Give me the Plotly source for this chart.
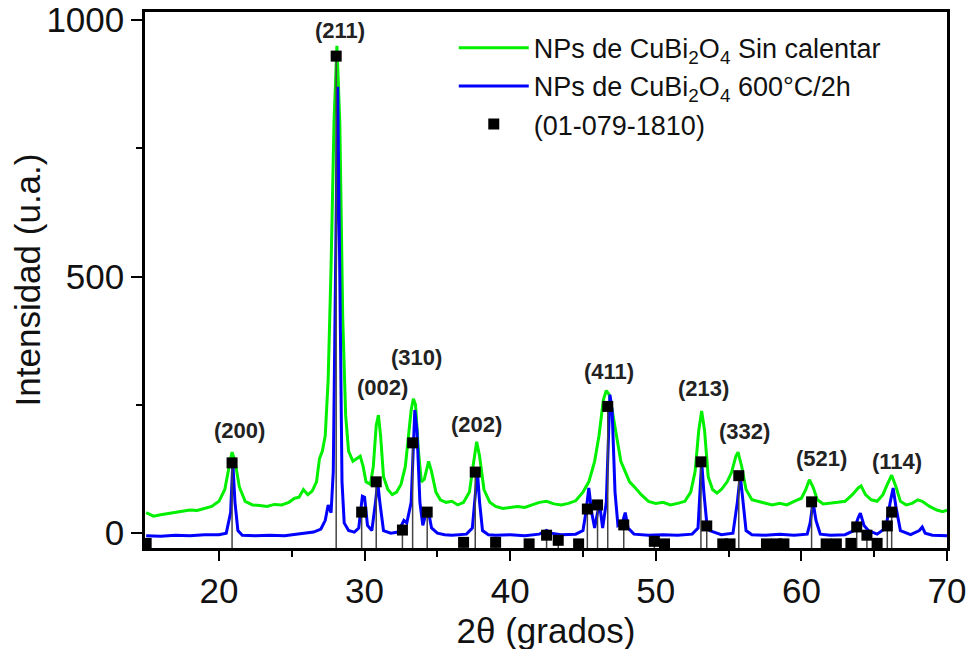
import plotly.graph_objects as go

# Green: NPs de CuBi2O4 sin calentar
green_x = [15.0, 15.5, 16.0, 16.5, 17.0, 17.5, 18.0, 18.5, 19.0, 19.5, 20.0, 20.4, 20.7, 20.9, 21.1, 21.4, 21.8,
           22.3, 22.8, 23.3, 23.8, 24.3, 24.8, 25.2, 25.5, 25.8, 26.1, 26.4, 26.7, 26.9, 27.1, 27.3, 27.5, 27.7,
           27.9, 28.1, 28.3, 28.5, 28.7, 28.9, 29.2, 29.5, 29.7, 29.9, 30.1, 30.4, 30.6, 30.8, 30.95, 31.1, 31.3,
           31.6, 31.9, 32.2, 32.5, 32.8, 33.0, 33.2, 33.35, 33.5, 33.7, 33.9, 34.1, 34.4, 34.6, 34.9, 35.2, 35.6,
           36.0, 36.4, 36.8, 37.2, 37.5, 37.7, 37.9, 38.2, 38.6, 39.0, 39.5, 40.0, 40.5, 41.0, 41.5, 42.0, 42.5,
           43.0, 43.5, 44.0, 44.5, 45.0, 45.4, 45.8, 46.1, 46.4, 46.6, 46.8, 47.0, 47.3, 47.6, 47.9, 48.2, 48.6,
           49.0, 49.5, 50.0, 50.5, 51.0, 51.5, 52.0, 52.4, 52.7, 52.95, 53.15, 53.35, 53.6, 53.9, 54.2, 54.5,
           54.9, 55.2, 55.5, 55.65, 55.9, 56.2, 56.6, 57.0, 57.5, 58.0, 58.5, 59.0, 59.5, 60.0, 60.3, 60.55,
           60.8, 61.1, 61.5, 62.0, 62.5, 63.0, 63.5, 63.9, 64.1, 64.4, 64.8, 65.2, 65.6, 65.9, 66.2, 66.5, 66.8,
           67.2, 67.6, 68.0, 68.3, 68.8, 69.3, 69.7, 70.0]
green_y = [40, 33, 36, 38, 40, 42, 45, 44, 48, 52, 62, 85, 130, 158, 140, 90, 62,
           55, 54, 52, 56, 55, 60, 68, 70, 85, 75, 82, 100, 145, 160, 190, 300, 520,
           800, 950, 800, 420, 230, 160, 140, 145, 150, 130, 100, 95, 130, 210, 230, 190, 110,
           85, 75, 80, 95, 130, 180, 240, 262, 250, 160, 100, 105, 140, 120, 80, 65, 60,
           62, 55, 60, 80, 140, 178, 150, 85, 60, 52, 48, 50, 52, 50, 55, 60, 62,
           57, 55, 58, 63, 80, 100, 140, 190, 260, 278, 270, 240, 190, 140, 120, 100, 88,
           75, 62, 58, 60, 55, 58, 62, 80, 120, 200, 238, 200, 110, 85, 78, 85,
           100, 118, 150, 158, 130, 85, 65, 62, 58, 55, 58, 55, 62, 68, 85, 104,
           90, 65, 57, 58, 60, 62, 75, 88, 92, 75, 65, 62, 75, 95, 113, 90, 62,
           55, 58, 65, 62, 52, 45, 42, 45]

# Blue: NPs de CuBi2O4 600 C/2h
blue_x = [15.0, 16.0, 17.0, 18.0, 19.0, 20.0, 20.5, 20.8, 20.95, 21.1, 21.3, 21.6, 22.5, 23.5, 24.5, 25.5,
          26.5, 27.0, 27.3, 27.5, 27.7, 27.85, 28.0, 28.15, 28.3, 28.45, 28.6, 28.9, 29.3, 29.6, 29.85, 30.0,
          30.2, 30.5, 30.75, 30.9, 31.05, 31.3, 31.8, 32.3, 32.7, 32.9, 33.2, 33.45, 33.6, 33.8, 34.0, 34.25,
          34.4, 34.6, 35.0, 35.5, 36.0, 36.5, 37.0, 37.4, 37.6, 37.75, 37.9, 38.1, 38.5, 39.0, 40.0, 41.0,
          42.0, 42.5, 42.8, 43.5, 44.5, 45.0, 45.2, 45.4, 45.6, 45.8, 46.0, 46.15, 46.35, 46.6, 46.85, 47.0,
          47.2, 47.4, 47.7, 47.9, 48.1, 48.5, 49.5, 50.5, 51.5, 52.5, 52.9, 53.0, 53.15, 53.3, 53.5, 53.7,
          54.5, 55.3, 55.6, 55.8, 56.0, 56.2, 56.6, 57.5, 58.5, 59.5, 60.4, 60.6, 60.8, 61.0, 61.3, 62.0,
          63.0, 63.6, 63.9, 64.05, 64.3, 64.6, 65.2, 65.8, 66.1, 66.3, 66.5, 66.8, 67.5, 68.1, 68.3, 68.5,
          69.0, 70.0]
blue_y = [-5, -6, -4, -5, -3, -3, 0, 40, 137, 60, 5, -4, -5, -4, -5, -2,
          2, 8, 25, 55, 40, 120, 500, 870, 500, 100, 20, 5, 2, 10, 72, 70,
          15, 5, 60, 100, 60, 5, 0, 2, 25, 20, 60, 240, 200, 60, 15, 42,
          40, 10, 0, -3, -4, -3, -2, 10, 80, 120, 60, 5, -3, -4, -3, -5,
          -2, 5, 0, -3, -2, 5, 40, 88, 40, 10, 40, 55, 10, 60, 270, 240,
          80, 15, 20, 40, 10, -2, -4, -3, -4, -2, 10, 60, 140, 80, 20, 5,
          -3, 0, 60, 113, 60, 5, -3, -4, -2, -4, -2, 20, 61, 25, -2, -4,
          -3, 5, 30, 39, 15, 5, -2, 10, 60, 88, 50, 5, -3, 5, 12, 0,
          -4, -5]

# Reference pattern (01-079-1810)
ref_x = [15.0, 20.9, 28.05, 29.8, 30.8, 32.6, 33.3, 34.3, 36.8, 37.6, 39.0, 41.3, 42.5, 43.3, 44.7, 45.3,
         46.0, 46.7, 47.8, 49.9, 50.6, 53.1, 53.5, 54.6, 55.1, 55.7, 57.6, 58.3, 58.8, 60.7, 61.7, 62.4,
         63.4, 63.8, 64.5, 65.2, 65.9, 66.2]
ref_y = [-20, 137, 930, 41, 100, 6, 176, 41, -18, 119, -18, -21, -4, -14, -21, 47,
         55, 247, 16, -16, -21, 139, 14, -21, -21, 112, -21, -21, -21, 61, -21, -21,
         -20, 12, -4, -20, 14, 41]

# Miller index labels
hkl_text = ["(200)", "(211)", "(002)", "(310)", "(202)", "(411)", "(213)", "(332)", "(521)", "(114)"]
hkl_x = [21.4, 28.3, 31.2, 33.6, 37.7, 46.8, 53.3, 56.1, 61.4, 66.6]
hkl_y = [201, 980, 284, 342, 211, 315, 282, 198, 145, 139]

Y_MIN, Y_MAX = -29, 1016
FONT = "Liberation Sans, Arial, sans-serif"

fig = go.Figure()
fig.add_trace(go.Scatter(x=green_x, y=green_y, mode="lines",
                         line=dict(color="#00f000", width=3),
                         name="NPs de CuBi<sub>2</sub>O<sub>4</sub> Sin calentar"))
fig.add_trace(go.Scatter(x=blue_x, y=blue_y, mode="lines",
                         line=dict(color="#0000ff", width=3),
                         name="NPs de CuBi<sub>2</sub>O<sub>4</sub> 600°C/2h"))

stick_x, stick_y = [], []
for xv, yv in zip(ref_x, ref_y):
    stick_x += [xv, xv, None]
    stick_y += [Y_MIN, yv, None]
fig.add_trace(go.Scatter(x=stick_x, y=stick_y, mode="lines",
                         line=dict(color="#444444", width=1.5),
                         showlegend=False, hoverinfo="skip"))
fig.add_trace(go.Scatter(x=ref_x, y=ref_y, mode="markers",
                         marker=dict(symbol="square", size=11, color="black"),
                         name="(01-079-1810)"))

for t, xv, yv in zip(hkl_text, hkl_x, hkl_y):
    fig.add_annotation(x=xv, y=yv, text="<b>%s</b>" % t, showarrow=False,
                       font=dict(family=FONT, size=22, color="#222222"))

fig.update_layout(
    width=977, height=649,
    margin=dict(l=137, r=38, t=4, b=109),
    paper_bgcolor="white", plot_bgcolor="white",
    font=dict(family=FONT, color="#111111"),
    showlegend=True,
    legend=dict(x=0.385, y=0.978, xanchor="left", yanchor="top",
                bgcolor="rgba(0,0,0,0)", font=dict(family=FONT, size=27),
                tracegroupgap=0, itemwidth=70),
)
fig.update_xaxes(range=[14.92, 70], showline=True, linewidth=2.5, linecolor="black", mirror=True,
                 ticks="outside", ticklen=10, tickwidth=2, tickcolor="black",
                 tickvals=[20, 30, 40, 50, 60, 70], automargin=False, ticklabeloverflow="allow",
                 minor=dict(tickvals=[25, 35, 45, 55, 65], ticks="outside", ticklen=6, tickwidth=2, tickcolor="black"),
                 showgrid=False, zeroline=False,
                 tickfont=dict(family=FONT, size=35),
                 title=dict(text="2θ (grados)", font=dict(family=FONT, size=35), standoff=10))
fig.update_yaxes(range=[Y_MIN, Y_MAX], showline=True, linewidth=2.5, linecolor="black", mirror=True,
                 ticks="outside", ticklen=11, tickwidth=2, tickcolor="black",
                 tickvals=[0, 500, 1000], automargin=False, ticklabeloverflow="allow",
                 minor=dict(tickvals=[250, 750], ticks="outside", ticklen=6, tickwidth=2, tickcolor="black"),
                 showgrid=False, zeroline=False,
                 tickfont=dict(family=FONT, size=35),
                 title=dict(text="Intensidad (u.a.)", font=dict(family=FONT, size=35), standoff=8))

fig.write_html("out.html")
